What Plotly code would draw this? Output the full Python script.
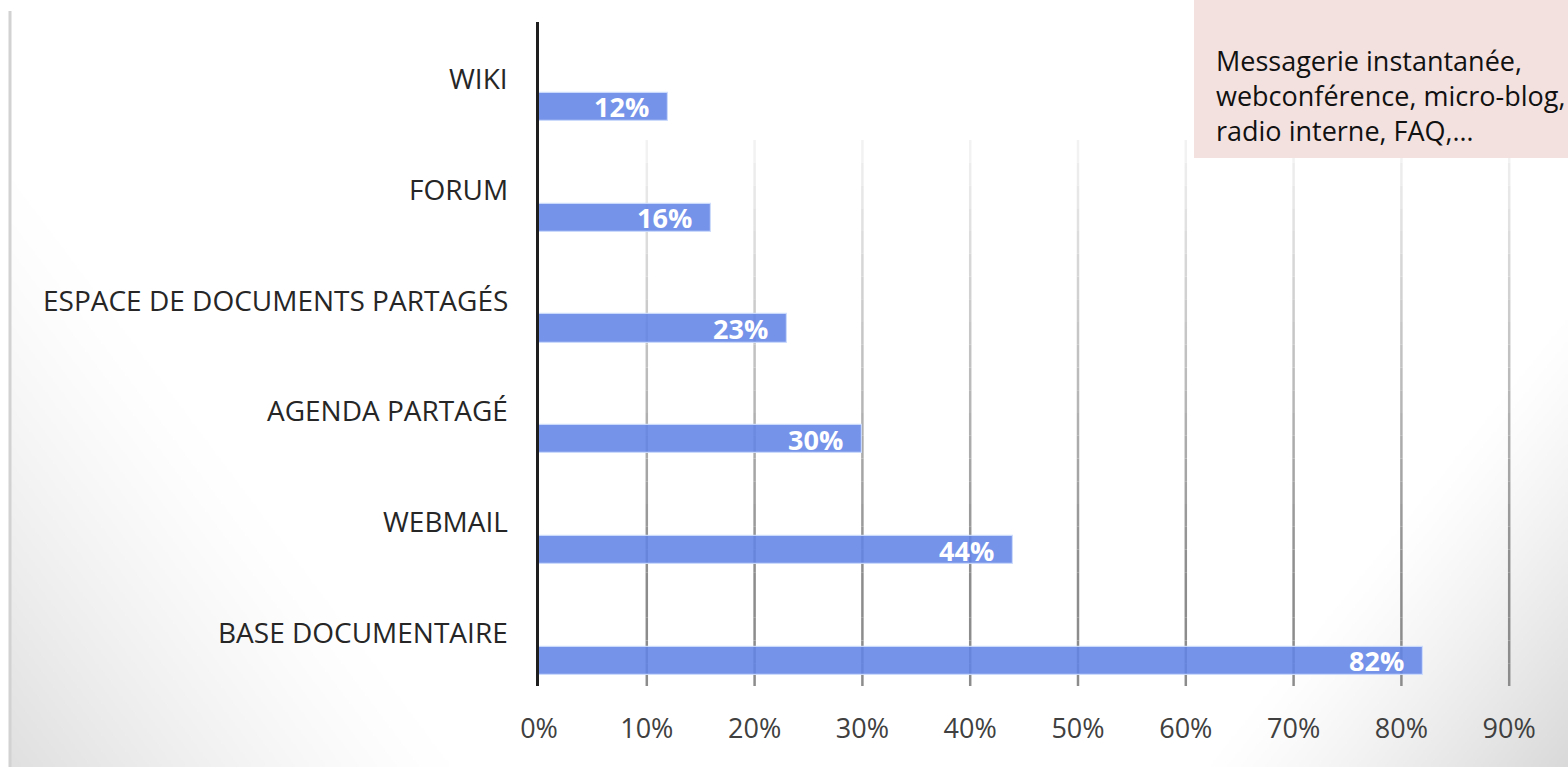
import base64, struct, zlib
import numpy as np
import plotly.graph_objects as go

# ---------------- data ----------------
categories = ["WIKI", "FORUM", "ESPACE DE DOCUMENTS PARTAGÉS",
              "AGENDA PARTAGÉ", "WEBMAIL", "BASE DOCUMENTAIRE"]
values = [0.12, 0.16, 0.23, 0.30, 0.44, 0.82]
tick_values = [0, 0.1, 0.2, 0.3, 0.4, 0.5, 0.6, 0.7, 0.8, 0.9]
tick_labels = ["0%", "10%", "20%", "30%", "40%", "50%", "60%", "70%", "80%", "90%"]
note_lines = ["Messagerie instantanée,", "webconférence, micro-blog,", "radio interne, FAQ,…"]

# ---------------- layout geometry ----------------
W, H = 1568, 767
ML, MR, MT, MB = 539, 0, 22, 81
PW, PH = W - ML - MR, H - MT - MB
FONT = "Open Sans"

# ---------------- background gradient image ----------------
def png_gray(arr):
    h, w = arr.shape
    raw = b"".join(b"\x00" + arr[i].tobytes() for i in range(h))
    def chunk(t, d):
        c = struct.pack(">I", len(d)) + t + d
        return c + struct.pack(">I", zlib.crc32(t + d) & 0xffffffff)
    return (b"\x89PNG\r\n\x1a\n"
            + chunk(b"IHDR", struct.pack(">IIBBBBB", w, h, 8, 0, 0, 0, 0))
            + chunk(b"IDAT", zlib.compress(raw, 9))
            + chunk(b"IEND", b""))

f = 2
yy, xx = np.mgrid[0:H // f, 0:W // f].astype(float)
xx *= f
yy *= f
s1 = 32 * np.clip(1 - (xx + 0.75 * (H - yy)) / 450, 0, 1) ** 1.3
s2 = 38 * np.clip(1 - ((W - xx) + 0.8 * (H - yy)) / 360, 0, 1) ** 1.2
img = 255 - s1 - s2
img[(xx < 9) | (yy < 11)] = 255
bg_uri = "data:image/png;base64," + base64.b64encode(png_gray(img.astype(np.uint8))).decode()

fig = go.Figure()
fig.add_trace(go.Bar(
    x=values, y=categories, orientation="h", width=0.255,
    marker=dict(color="rgba(99,132,231,0.88)",
                line=dict(color="rgba(205,220,252,0.9)", width=1.2)),
    hoverinfo="skip", showlegend=False,
))

ymax, ymin = 5.226, -0.767
fig.update_layout(
    width=W, height=H,
    margin=dict(l=ML, r=MR, t=MT, b=MB, pad=0),
    paper_bgcolor="white", plot_bgcolor="rgba(0,0,0,0)",
    bargap=0,
    xaxis=dict(range=[0, PW / 1078], tickmode="array", tickvals=tick_values,
               ticktext=tick_labels, showgrid=False, zeroline=False, showline=False,
               ticks="outside", ticklen=19, tickcolor="rgba(0,0,0,0)",
               tickfont=dict(family=FONT, size=27, color="#404040")),
    yaxis=dict(type="category", categoryorder="array", categoryarray=categories,
               range=[ymax, ymin], showticklabels=False, showgrid=False,
               zeroline=False, showline=True, linecolor="#1e1e1e", linewidth=3,
               ticks=""),
    images=[dict(source=bg_uri, xref="paper", yref="paper",
                 x=-ML / PW, y=1 + MT / PH, sizex=W / PW, sizey=H / PH,
                 xanchor="left", yanchor="top", sizing="stretch", layer="below")],
)

# left frame line
shapes = [dict(type="line", xref="paper", yref="paper",
               x0=(10 - ML) / PW, x1=(10 - ML) / PW, y0=1 + (MT - 11) / PH, y1=-MB / PH,
               line=dict(color="#d2d2d2", width=3), layer="below")]

# faded vertical gridlines
g_top = (PH + MT - 140) / PH
nseg = 24
for tv in tick_values[1:]:
    for k in range(nseg):
        y0 = g_top * (1 - k / nseg)
        y1 = g_top * (1 - (k + 1) / nseg)
        t = (k + 0.5) / nseg
        c = int(245 - 105 * min(1, t * 1.25))
        shapes.append(dict(type="line", xref="x", yref="paper", x0=tv, x1=tv,
                           y0=y0, y1=y1, line=dict(color=f"rgb({c},{c},{c})", width=2.5),
                           layer="below"))

# pink note box
shapes.append(dict(type="rect", xref="paper", yref="paper",
                   x0=(1194 - ML) / PW, x1=1.05, y0=(PH + MT - 158) / PH, y1=1.1,
                   fillcolor="#F3E1E0", line=dict(width=0), layer="above"))
fig.update_layout(shapes=shapes)

annotations = []
for cat in categories:
    annotations.append(dict(x=0, y=cat, xref="x", yref="y", text=cat, showarrow=False,
                            xanchor="right", yanchor="middle", xshift=-29, yshift=29,
                            font=dict(family=FONT, size=28, color="#262626")))
for cat, v, lab in zip(categories, values, [f"{round(v*100)}%" for v in values]):
    annotations.append(dict(x=v, y=cat, xref="x", yref="y", text=f"<b>{lab}</b>",
                            showarrow=False, xanchor="right", yanchor="middle", xshift=-17,
                            font=dict(family=FONT, size=27, color="white")))
annotations.append(dict(x=(1214 - ML) / PW, y=(PH + MT - 95) / PH, xref="paper", yref="paper",
                        text="<br>".join(note_lines), showarrow=False, align="left",
                        xanchor="left", yanchor="middle",
                        font=dict(family=FONT, size=27, color="#111111")))
fig.update_layout(annotations=annotations)

fig.write_html("out.html", config={"displayModeBar": False},
               post_script="document.body.style.margin='0';document.body.style.overflow='hidden';")
